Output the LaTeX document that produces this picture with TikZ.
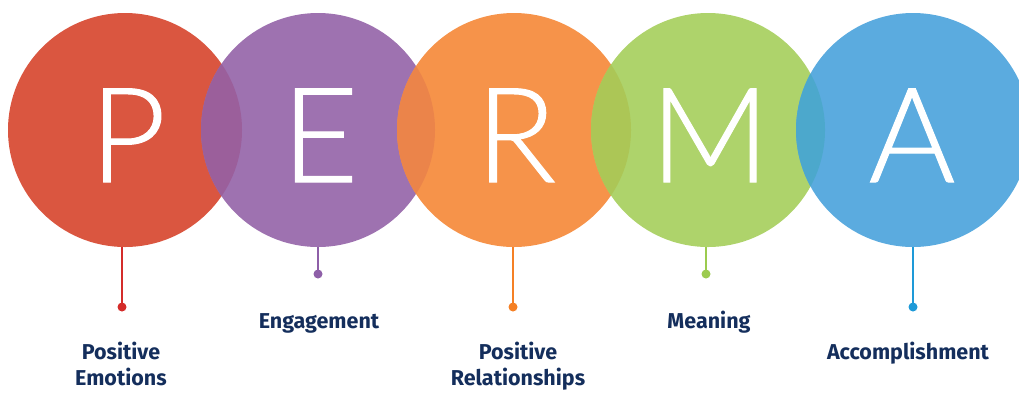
\documentclass[tikz,border=0pt]{standalone}
\usepackage{fontspec}
\newfontfamily\letterfont{Lato}[UprightFont=* Light, UprightFeatures={FakeBold=0.8}]
\newfontfamily\labelfont{Fira Sans}
\definecolor{cP}{RGB}{218,86,64}
\definecolor{cE}{RGB}{158,114,176}
\definecolor{cR}{RGB}{246,147,74}
\definecolor{cM}{RGB}{174,211,107}
\definecolor{cA}{RGB}{91,171,223}
\definecolor{oPE}{RGB}{155,95,155}
\definecolor{oER}{RGB}{235,132,74}
\definecolor{oRM}{RGB}{172,198,86}
\definecolor{oMA}{RGB}{76,168,204}
\definecolor{lP}{RGB}{212,44,42}
\definecolor{lE}{RGB}{142,95,168}
\definecolor{lR}{RGB}{245,128,37}
\definecolor{lM}{RGB}{156,203,79}
\definecolor{lA}{RGB}{30,154,216}
\definecolor{navy}{RGB}{20,46,92}
\tikzset{
  bubble/.style={circle, minimum size=234pt, inner sep=0pt, fill=#1},
  bigletter/.style={text=white, font=\letterfont\fontsize{132}{132}\selectfont, anchor=base, inner sep=0pt},
  stem/.style={draw=#1, line width=1.5pt},
  dotmark/.style={circle, fill=#1, minimum size=9pt, inner sep=0pt},
  lbl/.style={text=navy, font=\labelfont\bfseries\fontsize{21.5}{25.5}\selectfont, align=center, inner sep=0pt, anchor=base}
}
\begin{document}
\begin{tikzpicture}[x=1pt,y=-1pt]
\useasboundingbox (0,0) rectangle (1019,392);
\begin{scope}
\clip (0,0) rectangle (1019,392);
\node[bubble=cP] (cp) at (125,130) {};
\node[bubble=cE] (ce) at (318,130) {};
\node[bubble=cR] (cr) at (514,130) {};
\node[bubble=cM] (cm) at (708,130) {};
\node[bubble=cA] (ca) at (913,130) {};
\begin{scope}
  \clip (125,130) circle (117);
  \fill[oPE] (318,130) circle (117);
\end{scope}
\begin{scope}
  \clip (318,130) circle (117);
  \fill[oER] (514,130) circle (117);
\end{scope}
\begin{scope}
  \clip (514,130) circle (117);
  \fill[oRM] (708,130) circle (117);
\end{scope}
\begin{scope}
  \clip (708,130) circle (117);
  \fill[oMA] (913,130) circle (117);
\end{scope}
\end{scope}
\node[bigletter] (tp) at (128,182) {P};
\node[bigletter] (te) at (320,182) {E};
\node[bigletter] (tr) at (516,182) {R};
\node[bigletter] (tm) at (710,182) {M};
\node[bigletter] (ta) at (912,182) {A};
% stems and dots
\node[dotmark=lP] (dp) at (122,307) {};
\node[dotmark=lE] (de) at (318,274) {};
\node[dotmark=lR] (dr) at (513,307) {};
\node[dotmark=lM] (dm) at (706,274) {};
\node[dotmark=lA] (da) at (913,307) {};
\coordinate (bp) at (122,247);
\coordinate (be) at (318,247);
\coordinate (br) at (513,247);
\coordinate (bm) at (706,247);
\coordinate (ba) at (913,247);
\draw[stem=lP] (bp) -- (dp.center);
\draw[stem=lE] (be) -- (de.center);
\draw[stem=lR] (br) -- (dr.center);
\draw[stem=lM] (bm) -- (dm.center);
\draw[stem=lA] (ba) -- (da.center);
% labels
\node[lbl] (np) at (121,385) {Positive\\Emotions};
\node[lbl] (ne) at (319,328) {Engagement};
\node[lbl] (nr) at (518,385) {Positive\\Relationships};
\node[lbl] (nm) at (709,328) {Meaning};
\node[lbl] (na) at (908,359.5) {Accomplishment};
\end{tikzpicture}
\end{document}
